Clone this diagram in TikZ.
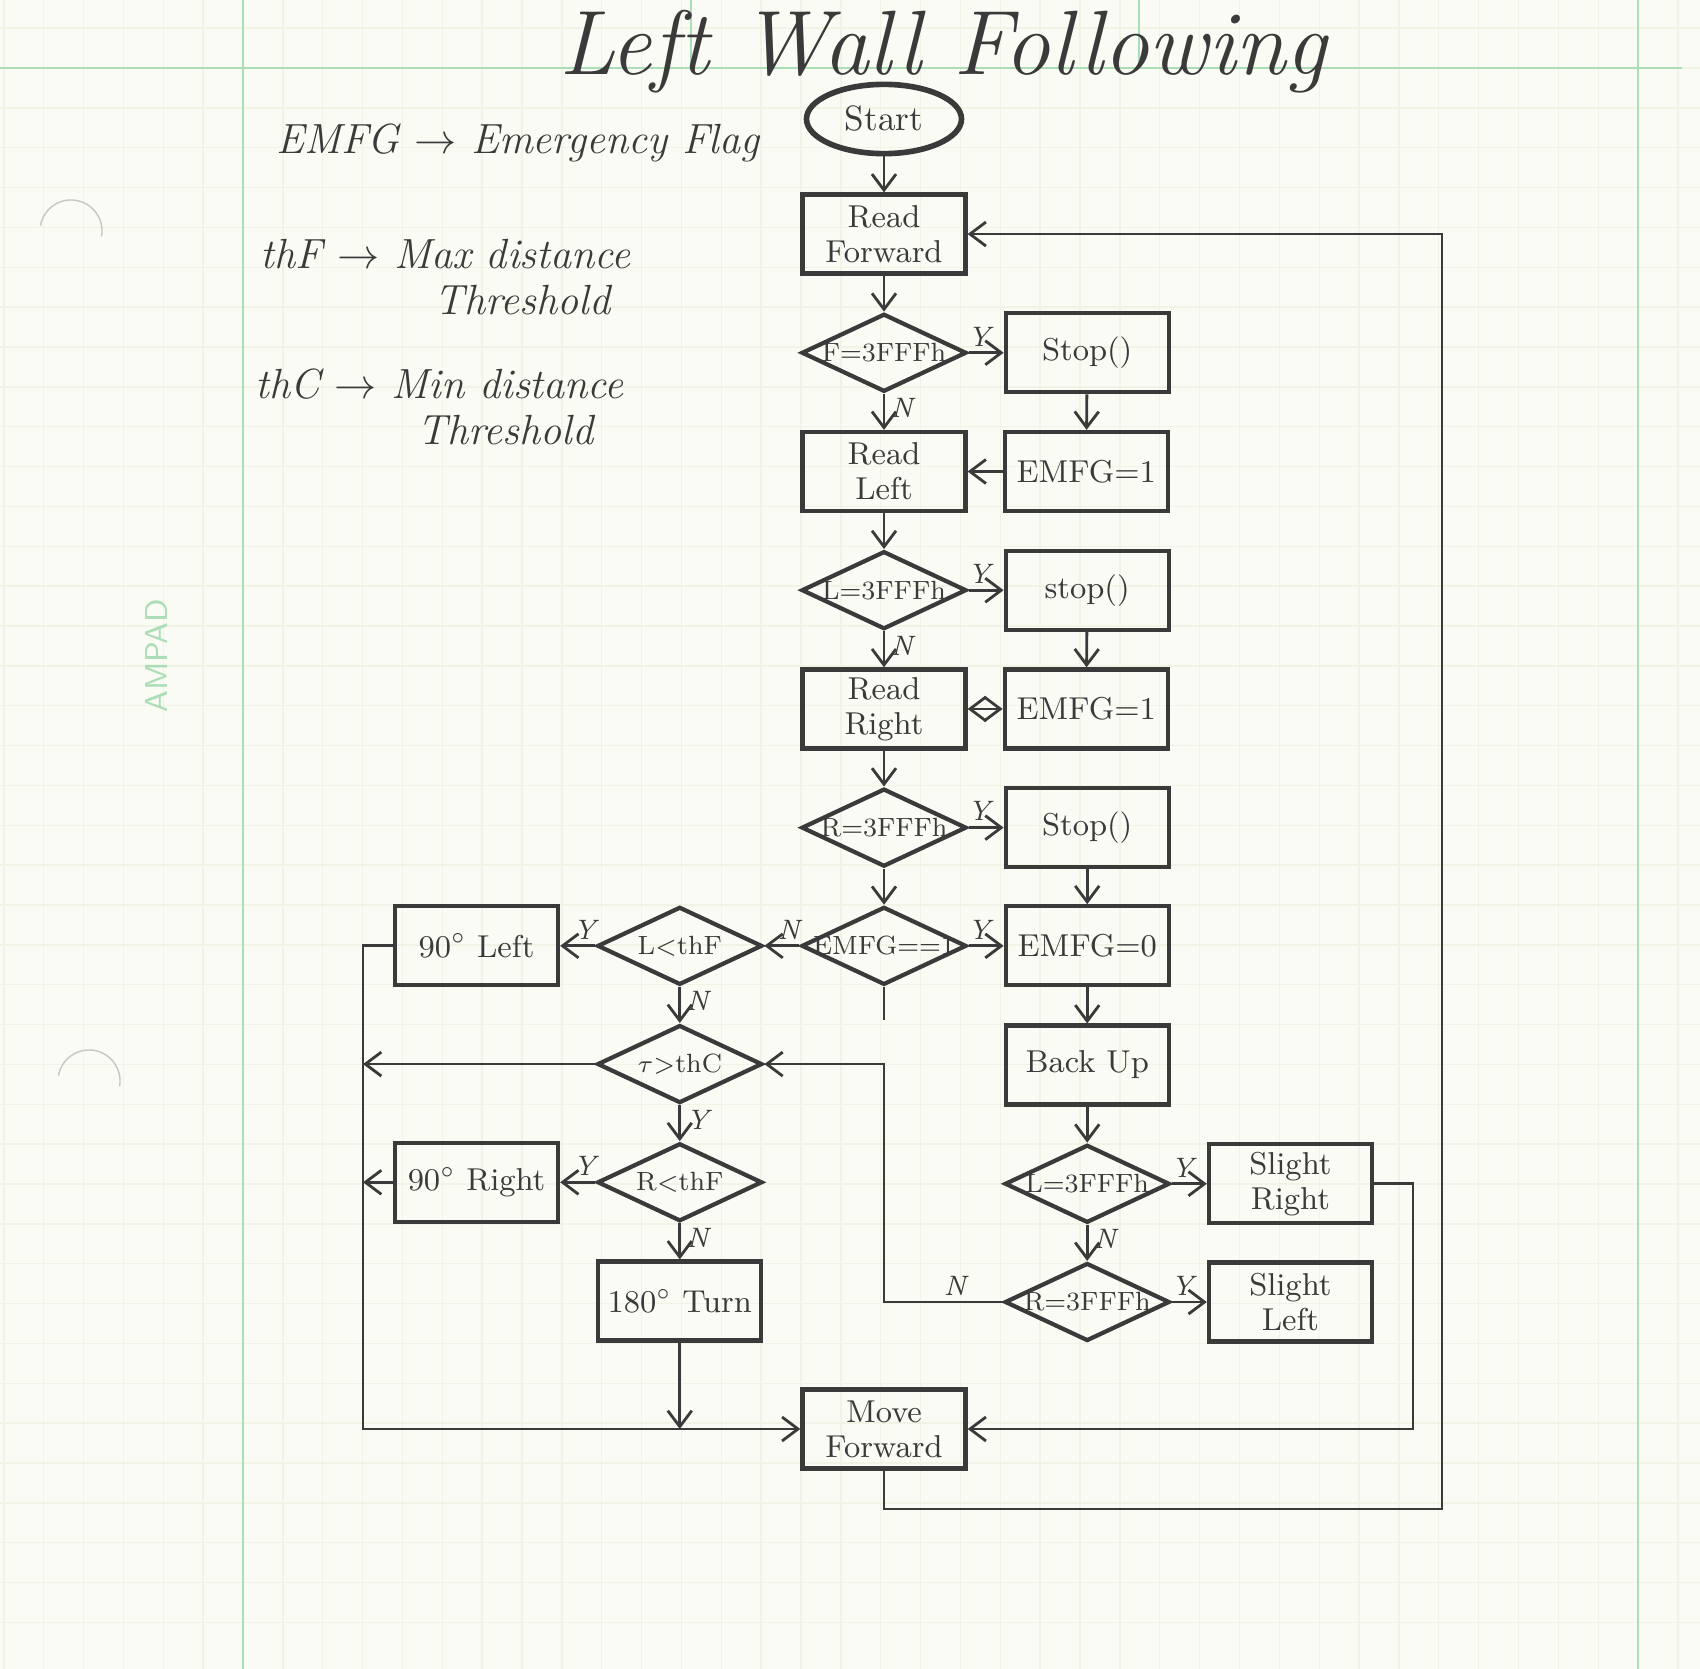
\documentclass[tikz,border=0pt]{standalone}
\usepackage{amsmath, amssymb}
\usepackage{tikz}
\usetikzlibrary{arrows.meta, positioning, shapes.geometric, calc}
\definecolor{pencil}{HTML}{3A3A3A}
\definecolor{paper}{HTML}{FAFBF4}
\definecolor{gridminor}{HTML}{F0F4E7}
\definecolor{gridmajor}{HTML}{ABDDB6}

\begin{document}
\begin{tikzpicture}[
                node distance=0.36cm and 0.35cm,
                box/.style={draw=pencil, line width=1.2pt, align=center, minimum width=1.63cm, minimum height=0.79cm, inner sep=1.5pt, text=pencil, font=\fontsize{9}{10}\selectfont},
                dec/.style={draw=pencil, line width=1.2pt, diamond, aspect=2.1, inner sep=0pt, minimum width=1.65cm, minimum height=0.78cm, text=pencil, font=\fontsize{7.5}{9}\selectfont,
                    execute at begin node={\hbox to 0pt\bgroup\hss}, execute at end node={\hss\egroup}},
                term/.style={draw=pencil, line width=1.6pt, ellipse, minimum width=1.55cm, minimum height=0.65cm, text=pencil, font=\fontsize{10}{12}\selectfont},
                arr/.style={->, draw=pencil, line width=0.8pt, >={Straight Barb[length=1.6mm, width=2.4mm]}},
                yn/.style={text=pencil, inner sep=1.5pt, font=\footnotesize\itshape},
                note/.style={anchor=west, align=left, inner sep=0pt, text=pencil, font=\fontsize{12}{13}\selectfont\itshape}
            ]
            \fill[paper] (0,0) rectangle (17,-16.69);
            \useasboundingbox (0,0) rectangle (17,-16.69);
            \foreach \gx in {0.038,0.4366,...,16.9}
                \draw[gridminor, line width=0.4pt] (\gx,0) -- (\gx,-16.69);
            \foreach \gy in {-0.281,-0.6796,...,-16.6}
                \draw[gridminor, line width=0.4pt] (0,\gy) -- (17,\gy);
            \draw[gridmajor, line width=0.6pt] (2.43,0) -- (2.43,-16.69) (16.38,0) -- (16.38,-16.69)
                (0,-0.68) -- (16.82,-0.68) (6.91,0) -- (6.91,-0.68) (11.39,0) -- (11.39,-0.68);
            \draw[gray!45, line width=0.4pt] (0.405,-2.256) arc[start angle=170, end angle=-10, radius=0.31];
            \draw[gray!45, line width=0.4pt] (0.585,-10.756) arc[start angle=170, end angle=-10, radius=0.31];
            \node[rotate=90, text=gridmajor, font=\sffamily\small] (brand) at (1.57,-6.56) {AMPAD};

            \node[text=pencil, font=\fontsize{26}{28}\selectfont\itshape] (title) at (9.43,-0.52) {Left Wall Following};
            \node[note] (legemfg) at (2.76,-1.43) {EMFG $\rightarrow$ Emergency Flag};
            \node[note] (legthf) at (2.60,-2.77) {thF $\rightarrow$ Max distance\\\hspace*{1.74cm}Threshold};
            \node[note] (legthc) at (2.55,-4.07) {thC $\rightarrow$ Min distance\\\hspace*{1.62cm}Threshold};

            \node[term] (start) at (8.84,-1.19) {Start};
            \node[box, below=of start] (readfwd) {Read\\Forward};
            \node[dec, below=of readfwd] (fchk) {F=3FFFh};
            \node[box, right=of fchk] (stopa) {Stop()};
            \node[box, below=of fchk] (readleft) {Read\\Left};
            \node[box, right=of readleft] (emfga) {EMFG=1};
            \node[dec, below=of readleft] (lchk) {L=3FFFh};
            \node[box, right=of lchk] (stopb) {stop()};
            \node[box, below=of lchk] (readright) {Read\\Right};
            \node[box, right=of readright] (emfgb) {EMFG=1};
            \node[dec, below=of readright] (rchk) {R=3FFFh};
            \node[box, right=of rchk] (stopc) {Stop()};
            \node[dec, below=of rchk] (emfgchk) {EMFG==1};
            \node[box, right=of emfgchk] (emfgclr) {EMFG=0};
            \node[box, below=of emfgclr] (backup) {Back Up};
            \node[dec, below=of backup] (lwall) {L=3FFFh};
            \node[box, right=of lwall] (slightr) {Slight\\Right};
            \node[dec, below=of lwall] (rwall) {R=3FFFh};
            \node[box, right=of rwall] (slightl) {Slight\\Left};
            \node[dec, left=of emfgchk] (lopen) {L$<$thF};
            \node[box, left=of lopen] (left90) {$90^\circ$ Left};
            \node[dec, below=of lopen] (fclear) {$\tau$$>$thC};
            \node[dec, below=of fclear] (ropen) {R$<$thF};
            \node[box, left=of ropen] (right90) {$90^\circ$ Right};
            \node[box, below=of ropen] (turn) {$180^\circ$ Turn};
            \node[box] (movefwd) at (8.84,-14.29) {Move\\Forward};
            \coordinate[below=0.33cm of emfgchk] (stub);
            \coordinate (rail) at (3.63,-14.29);
            \coordinate (loop) at (14.42,-15.09);

            \draw[arr] (start) -- (readfwd);
            \draw[arr] (readfwd) -- (fchk);
            \draw[arr] (fchk) -- node[yn, above, pos=0.3] {Y} (stopa);
            \draw[arr] (fchk) -- node[yn, right, pos=0.4] {N} (readleft);
            \draw[arr] (stopa) -- (emfga);
            \draw[arr] (emfga) -- (readleft);
            \draw[arr] (readleft) -- (lchk);
            \draw[arr] (lchk) -- node[yn, above, pos=0.3] {Y} (stopb);
            \draw[arr] (lchk) -- node[yn, right, pos=0.4] {N} (readright);
            \draw[arr] (stopb) -- (emfgb);
            \draw[arr, <->] (readright) -- (emfgb);
            \draw[arr] (readright) -- (rchk);
            \draw[arr] (rchk) -- node[yn, above, pos=0.3] {Y} (stopc);
            \draw[arr] (rchk) -- (emfgchk);
            \draw[arr] (stopc) -- (emfgclr);
            \draw[arr] (emfgchk) -- node[yn, above, pos=0.3] {Y} (emfgclr);
            \draw[arr] (emfgchk) -- node[yn, above, pos=0.3] {N} (lopen);
            \draw[arr, -] (emfgchk) -- (stub);
            \draw[arr] (emfgclr) -- (backup);
            \draw[arr] (backup) -- (lwall);
            \draw[arr] (lwall) -- node[yn, above, pos=0.3] {Y} (slightr);
            \draw[arr] (lwall) -- node[yn, right, pos=0.4] {N} (rwall);
            \draw[arr] (rwall) -- node[yn, above, pos=0.3] {Y} (slightl);
            \draw[arr] (rwall.west) -| node[yn, above, pos=0.2] {N} (fclear.east -| movefwd) -- (fclear.east);
            \draw[arr] (lopen) -- node[yn, above, pos=0.3] {Y} (left90);
            \draw[arr] (lopen) -- node[yn, right, pos=0.4] {N} (fclear);
            \draw[arr] (fclear) -- node[yn, right, pos=0.4] {Y} (ropen);
            \draw[arr] (ropen) -- node[yn, above, pos=0.3] {Y} (right90);
            \draw[arr] (ropen) -- node[yn, right, pos=0.4] {N} (turn);
            \draw[arr] (left90) -| (rail) -- (movefwd);
            \draw[arr] (fclear) -- (fclear -| rail);
            \draw[arr] (right90) -- (right90 -| rail);
            \draw[arr] (turn) -- (turn |- rail);
            \draw[arr] (slightr.east) -- ++(0.39,0) |- (movefwd);
            \draw[arr] (movefwd) |- (loop) |- (readfwd);
        \end{tikzpicture}
\end{document}
